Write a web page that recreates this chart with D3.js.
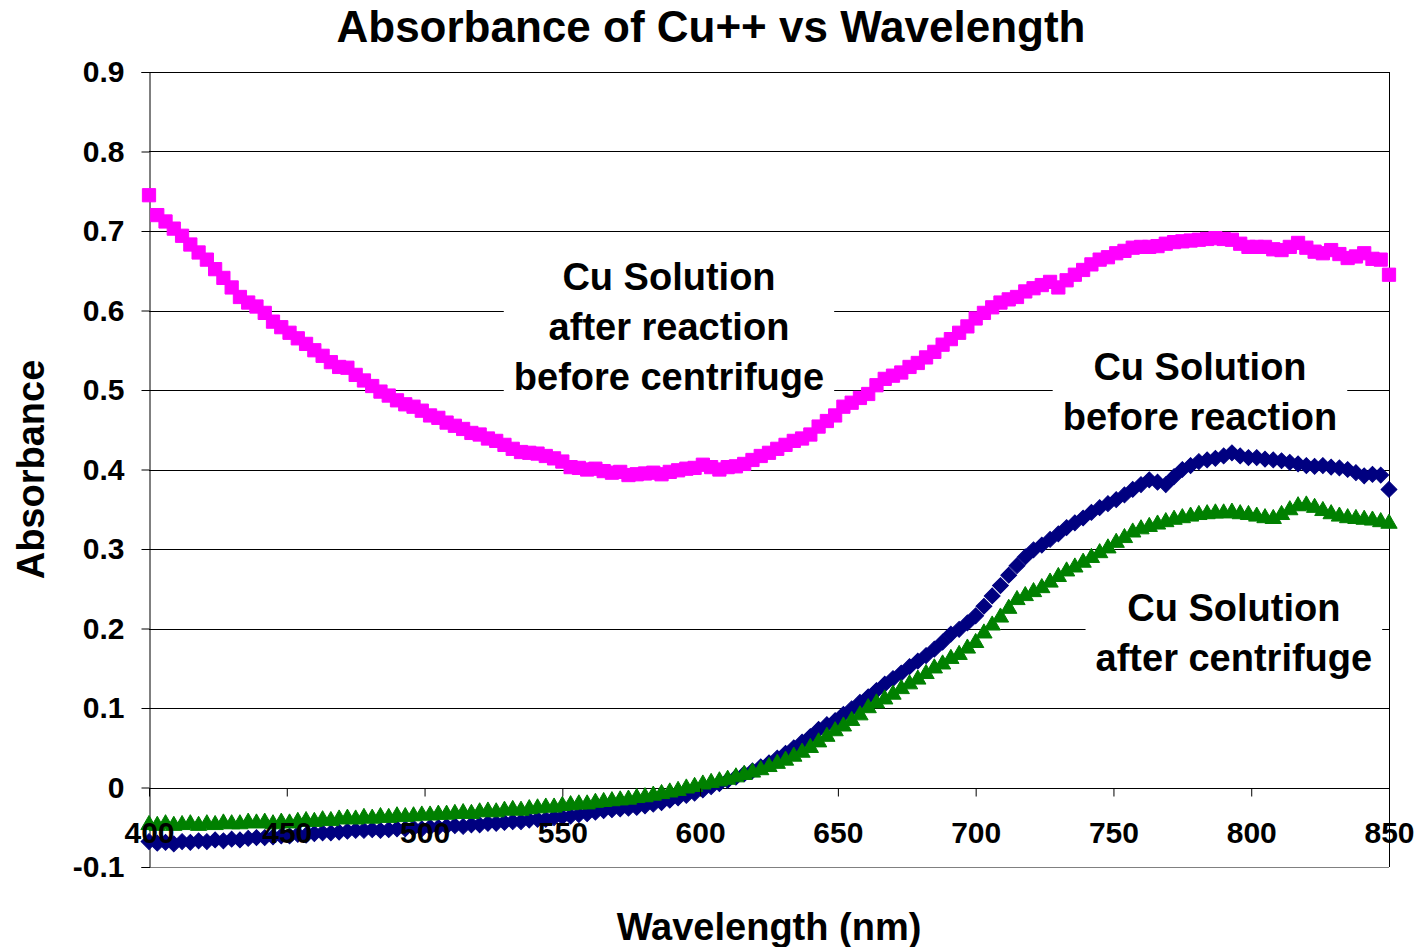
<!DOCTYPE html>
<html>
<head>
<meta charset="utf-8">
<script src="https://cdn.jsdelivr.net/npm/d3@7"></script>
<style>
  body { margin: 0; background: #fff; }
  svg text { font-family: "Liberation Sans", Arial, sans-serif; font-weight: bold; fill: #000; }
</style>
</head>
<body>
<svg class="chart" width="1420" height="947"></svg>
<script>
// wavelength grid (nm), read every 3 nm
var wavelengths = d3.range(400, 851, 3);

// Cu solution after reaction, before centrifuge (magenta squares)
var afterReaction = [
  0.745, 0.720, 0.712, 0.703, 0.694, 0.683, 0.673, 0.664, 0.652, 0.641,
  0.629, 0.617, 0.610, 0.605, 0.597, 0.586, 0.579, 0.572, 0.565, 0.558,
  0.550, 0.543, 0.535, 0.529, 0.528, 0.519, 0.512, 0.505, 0.498, 0.493,
  0.487, 0.482, 0.479, 0.474, 0.468, 0.465, 0.459, 0.455, 0.451, 0.446,
  0.444, 0.439, 0.436, 0.431, 0.426, 0.422, 0.421, 0.420, 0.417, 0.414,
  0.410, 0.403, 0.402, 0.400, 0.401, 0.398, 0.396, 0.397, 0.393, 0.394,
  0.395, 0.396, 0.394, 0.397, 0.399, 0.401, 0.402, 0.406, 0.403, 0.400,
  0.403, 0.404, 0.407, 0.412, 0.417, 0.421, 0.426, 0.431, 0.436, 0.439,
  0.444, 0.454, 0.461, 0.468, 0.479, 0.484, 0.490, 0.495, 0.506, 0.514,
  0.518, 0.522, 0.529, 0.534, 0.541, 0.548, 0.557, 0.564, 0.572, 0.580,
  0.590, 0.597, 0.604, 0.610, 0.614, 0.617, 0.624, 0.628, 0.632, 0.636,
  0.629, 0.638, 0.645, 0.651, 0.658, 0.664, 0.667, 0.672, 0.675, 0.679,
  0.680, 0.680, 0.681, 0.684, 0.686, 0.687, 0.688, 0.689, 0.690, 0.691,
  0.690, 0.689, 0.684, 0.680, 0.680, 0.680, 0.677, 0.676, 0.680, 0.685,
  0.679, 0.674, 0.672, 0.676, 0.671, 0.666, 0.668, 0.672, 0.665, 0.664,
  0.645
];

// Cu solution before reaction (navy diamonds)
var beforeReaction = [
  -0.068, -0.070, -0.069, -0.071, -0.068, -0.069, -0.067, -0.068, -0.066, -0.067,
  -0.065, -0.066, -0.064, -0.063, -0.063, -0.062, -0.061, -0.061, -0.059, -0.060,
  -0.058, -0.057, -0.057, -0.056, -0.055, -0.054, -0.054, -0.053, -0.054, -0.053,
  -0.052, -0.052, -0.051, -0.052, -0.050, -0.050, -0.049, -0.048, -0.049, -0.047,
  -0.047, -0.045, -0.045, -0.044, -0.043, -0.043, -0.041, -0.040, -0.040, -0.038,
  -0.037, -0.036, -0.034, -0.033, -0.031, -0.029, -0.028, -0.027, -0.026, -0.025,
  -0.023, -0.021, -0.019, -0.016, -0.013, -0.010, -0.007, -0.003, 0.001, 0.005,
  0.009, 0.013, 0.017, 0.021, 0.026, 0.031, 0.037, 0.043, 0.050, 0.057,
  0.064, 0.073, 0.079, 0.084, 0.092, 0.099, 0.107, 0.114, 0.122, 0.130,
  0.137, 0.144, 0.152, 0.159, 0.166, 0.174, 0.183, 0.193, 0.199, 0.207,
  0.216, 0.228, 0.241, 0.254, 0.267, 0.279, 0.290, 0.299, 0.305, 0.312,
  0.319, 0.327, 0.333, 0.339, 0.346, 0.352, 0.357, 0.362, 0.368, 0.375,
  0.381, 0.387, 0.384, 0.381, 0.391, 0.400, 0.405, 0.410, 0.412, 0.414,
  0.417, 0.421, 0.417, 0.415, 0.415, 0.413, 0.412, 0.411, 0.409, 0.407,
  0.405, 0.404, 0.405, 0.403, 0.402, 0.400, 0.396, 0.392, 0.394, 0.393,
  0.375
];

// Cu solution after centrifuge (green triangles)
var afterCentrifuge = [
  -0.047, -0.048, -0.046, -0.048, -0.047, -0.046, -0.048, -0.046, -0.047, -0.045,
  -0.046, -0.046, -0.044, -0.045, -0.044, -0.046, -0.044, -0.045, -0.043, -0.042,
  -0.043, -0.041, -0.042, -0.040, -0.039, -0.040, -0.038, -0.039, -0.037, -0.038,
  -0.036, -0.037, -0.036, -0.035, -0.035, -0.034, -0.034, -0.033, -0.032, -0.033,
  -0.031, -0.030, -0.031, -0.029, -0.028, -0.029, -0.027, -0.026, -0.025, -0.025,
  -0.023, -0.022, -0.021, -0.021, -0.019, -0.018, -0.017, -0.016, -0.015, -0.013,
  -0.012, -0.010, -0.008, -0.006, -0.004, -0.001, 0.001, 0.004, 0.006, 0.008,
  0.010, 0.013, 0.016, 0.019, 0.022, 0.026, 0.030, 0.034, 0.039, 0.044,
  0.050, 0.057, 0.064, 0.071, 0.077, 0.084, 0.091, 0.100, 0.106, 0.111,
  0.117, 0.124, 0.130, 0.136, 0.143, 0.150, 0.155, 0.162, 0.167, 0.175,
  0.182, 0.194, 0.204, 0.214, 0.225, 0.236, 0.241, 0.246, 0.251, 0.258,
  0.265, 0.272, 0.277, 0.283, 0.289, 0.295, 0.301, 0.308, 0.314, 0.321,
  0.325, 0.328, 0.331, 0.334, 0.337, 0.339, 0.341, 0.343, 0.344, 0.345,
  0.345, 0.346, 0.344, 0.343, 0.341, 0.339, 0.338, 0.343, 0.349, 0.354,
  0.355, 0.352, 0.348, 0.344, 0.341, 0.339, 0.338, 0.337, 0.336, 0.334,
  0.332
];

var xTicks = [400, 450, 500, 550, 600, 650, 700, 750, 800, 850];
var yTicks = [-0.1, 0, 0.1, 0.2, 0.3, 0.4, 0.5, 0.6, 0.7, 0.8, 0.9];

// in-chart labels: text lines and anchor (wavelength, absorbance of first baseline)
var labelLines = [
  ["Cu Solution", "after reaction", "before centrifuge"],
  ["Cu Solution", "before reaction"],
  ["Cu Solution", "after centrifuge"]
];
var labelAnchors = [[588.7, 0.626], [781.4, 0.513], [793.7, 0.210]];

var svg = d3.select("svg.chart"),
    plot = {left: 149, right: 1389, top: 72, bottom: 867};

var x = d3.scaleLinear().domain([400, 850]).range([plot.left, plot.right]),
    y = d3.scaleLinear().domain([-0.1, 0.9]).range([plot.bottom, plot.top]);

// gridlines
svg.append("g")
    .selectAll("line")
    .data(yTicks)
    .enter()
    .append("line")
    .attr("x1", plot.left)
    .attr("x2", plot.right)
    .attr("y1", function(d) { return Math.round(y(d)) + 0.5; })
    .attr("y2", function(d) { return Math.round(y(d)) + 0.5; })
    .style("stroke", function(d) { return d === -0.1 ? "#808080" : "#000"; })
    .style("stroke-width", 1);

// right border
svg.append("line")
    .attr("x1", plot.right + 0.5).attr("x2", plot.right + 0.5)
    .attr("y1", plot.top).attr("y2", plot.bottom)
    .style("stroke", "#000");

// y axis
var yAxis = svg.append("g")
    .attr("transform", "translate(" + (plot.left + 0.5) + ",0)")
    .call(d3.axisLeft(y)
        .tickValues(yTicks)
        .tickSize(8)
        .tickPadding(17)
        .tickFormat(function(d) { return String(d); }));
yAxis.select(".domain").style("stroke", "#000");
yAxis.selectAll(".tick line").style("stroke", "#000");
yAxis.selectAll(".tick text")
    .style("font-size", "30px")
    .style("font-family", null);

// series
var series = [
  {values: afterReaction, color: "#FF00FF", shape: d3.symbolSquare, size: 175, rotate: 0},
  {values: beforeReaction, color: "#000080", shape: d3.symbolSquare, size: 125, rotate: 45},
  {values: afterCentrifuge, color: "#008000", shape: d3.symbolTriangle, size: 115, rotate: 0}
];

series.forEach(function(s) {
  svg.append("g")
      .selectAll("path")
      .data(s.values)
      .enter()
      .append("path")
      .attr("d", d3.symbol().type(s.shape).size(s.size))
      .attr("transform", function(d, i) {
        return "translate(" + x(wavelengths[i]) + "," + y(d) + ") rotate(" + s.rotate + ")";
      })
      .style("fill", s.color)
      .style("stroke", s.color)
      .style("stroke-width", 1);
});

// x axis on the zero line
var xAxis = svg.append("g")
    .attr("transform", "translate(0," + (Math.round(y(0)) + 0.5) + ")")
    .call(d3.axisBottom(x).tickValues(xTicks).tickSize(8).tickFormat(d3.format("d")));
xAxis.select(".domain").remove();
xAxis.selectAll(".tick line").style("stroke", "#000");
xAxis.selectAll(".tick text")
    .attr("y", 44)
    .attr("dy", "0.35em")
    .style("font-size", "30px")
    .style("font-family", null);

// labels with white boxes
labelLines.forEach(function(lines, k) {
  var g = svg.append("g")
      .attr("transform", "translate(" + x(labelAnchors[k][0]) + "," + y(labelAnchors[k][1]) + ")");
  var box = g.append("rect").style("fill", "#fff");
  var t = g.append("text")
      .attr("text-anchor", "middle")
      .style("font-size", "38px");
  t.selectAll("tspan")
      .data(lines)
      .enter()
      .append("tspan")
      .attr("x", 0)
      .attr("y", function(d, i) { return i * 50; })
      .text(function(d) { return d; });
  var bb = t.node().getBBox();
  box.attr("x", bb.x - 10)
      .attr("y", bb.y - 2)
      .attr("width", bb.width + 20)
      .attr("height", bb.height + 4);
});

// titles
svg.append("text")
    .attr("x", 711)
    .attr("y", 42)
    .attr("text-anchor", "middle")
    .style("font-size", "44px")
    .text("Absorbance of Cu++ vs Wavelength");

svg.append("text")
    .attr("x", (plot.left + plot.right) / 2)
    .attr("y", 940)
    .attr("text-anchor", "middle")
    .style("font-size", "38px")
    .text("Wavelength (nm)");

svg.append("text")
    .attr("transform", "translate(44," + (plot.top + plot.bottom) / 2 + ") rotate(-90)")
    .attr("text-anchor", "middle")
    .style("font-size", "38px")
    .text("Absorbance");
</script>
</body>
</html>
